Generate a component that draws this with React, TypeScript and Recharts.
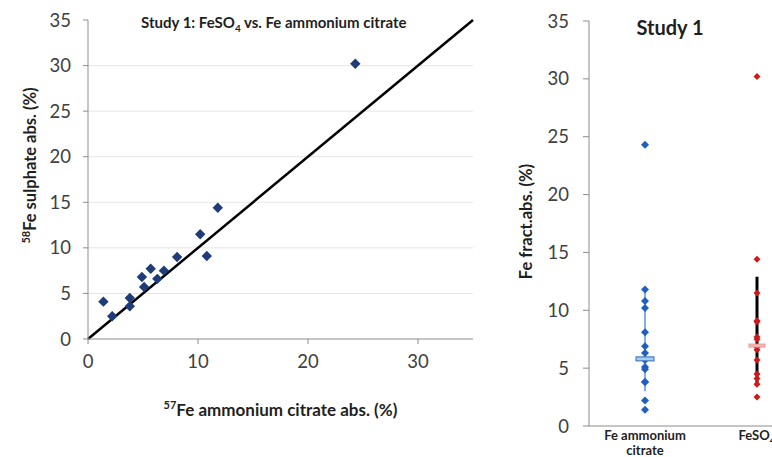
import React from 'react';
import { ScatterChart, Scatter, XAxis, YAxis, CartesianGrid, ReferenceLine, Label } from 'recharts';

// paired absorption values per subject (%)
const citrateAbs = [1.4, 2.2, 3.8, 3.8, 4.9, 5.1, 5.7, 6.3, 6.9, 8.1, 10.2, 10.8, 11.8, 24.3];
const sulphateAbs = [4.1, 2.5, 4.5, 3.6, 6.8, 5.7, 7.7, 6.6, 7.5, 9.0, 11.5, 9.1, 14.4, 30.2];

const yTicks = [0, 5, 10, 15, 20, 25, 30, 35];
const xTicks = [0, 10, 20, 30];
const gridValues = [5, 10, 15, 20, 25, 30];
const identityLine = [0, 35];

// right panel groups
const groupPos = [1, 2];
const groupMedians = [5.8, 6.95];
const groupLow = [3.0, 3.5];
const groupHigh = [11.7, 12.9];

const FONT = 'Lato, "Open Sans", sans-serif';
const TEXT = '#1f1f1f';
const TICK = '#404040';
const AXIS = '#8c8c8c';

const pairs = citrateAbs.map((x, i) => ({ x, y: sulphateAbs[i] }));
const citrateGroup = citrateAbs.map((y) => ({ x: groupPos[0], y }));
const sulphateGroup = sulphateAbs.map((y) => ({ x: groupPos[1], y }));

const diamond = (r: number, fill: string) => (props: any) => {
  const { cx, cy } = props;
  return <polygon points={`${cx},${cy - r} ${cx + r},${cy} ${cx},${cy + r} ${cx - r},${cy}`} fill={fill} />;
};

const medianMark = (w: number, h: number, fill: string, stroke: string) => (props: any) => {
  const { cx, cy } = props;
  return <rect x={cx - w / 2} y={cy - h / 2} width={w} height={h} fill={fill} stroke={stroke} strokeWidth={1} />;
};

const noShape = () => <g />;

const tickStyle = { fontSize: 18.5, fill: TICK, fontFamily: FONT };

const GroupTick = (props: any) => {
  const { x, y, payload } = props;
  const idx = groupPos.indexOf(payload.value);
  const common = { textAnchor: 'middle' as const, fontFamily: FONT, fontWeight: 700, fontSize: 13, fill: TEXT };
  if (idx === 0) {
    return (
      <g>
        <text x={x} y={y + 6} {...common}>Fe ammonium</text>
        <text x={x} y={y + 21} {...common}>citrate</text>
      </g>
    );
  }
  return (
    <text x={x} y={y + 6} {...common}>
      FeSO<tspan fontSize={10} dy={4}>4</tspan>
    </text>
  );
};

const App: React.FC = () => {
  return (
    <div style={{ position: 'absolute', left: 0, top: 0, width: 772, height: 457, overflow: 'hidden', background: '#fff' }}>
      {/* left panel: paired scatter */}
      <div style={{ position: 'absolute', left: 0, top: 0 }}>
        <ScatterChart width={480} height={457} margin={{ top: 20, right: 7, bottom: 58, left: 0 }}>
          <CartesianGrid vertical={false} horizontalValues={gridValues} stroke="#e6e6e6" />
          <XAxis
            type="number"
            dataKey="x"
            domain={[0, 35]}
            ticks={xTicks}
            height={60}
            tick={tickStyle}
            tickSize={5}
            tickMargin={11}
            stroke={AXIS}
          >
            <Label
              content={(p: any) => {
                const vb = p.viewBox;
                return (
                  <text x={vb.x + vb.width / 2} y={vb.y + 77} textAnchor="middle" fontFamily={FONT} fontWeight={700} fontSize={17} fill={TEXT}>
                    <tspan fontSize={11} dy={-7}>57</tspan>
                    <tspan dy={7}>Fe ammonium citrate abs. (%)</tspan>
                  </text>
                );
              }}
            />
          </XAxis>
          <YAxis
            type="number"
            dataKey="y"
            domain={[0, 35]}
            ticks={yTicks}
            width={88}
            tick={tickStyle}
            tickSize={5}
            tickMargin={12}
            stroke={AXIS}
          >
            <Label
              content={(p: any) => {
                const vb = p.viewBox;
                const cx = 36;
                const cy = vb.y + vb.height / 2 - 14;
                return (
                  <text x={cx} y={cy} transform={`rotate(-90 ${cx} ${cy})`} textAnchor="middle" fontFamily={FONT} fontWeight={700} fontSize={16.5} fill={TEXT}>
                    <tspan fontSize={11} dy={-6}>58</tspan>
                    <tspan dy={6}>Fe sulphate abs. (%)</tspan>
                  </text>
                );
              }}
            />
          </YAxis>
          <ReferenceLine
            segment={[
              { x: identityLine[0], y: identityLine[0] },
              { x: identityLine[1], y: identityLine[1] },
            ]}
            stroke="#000"
            strokeWidth={2.5}
          />
          <Scatter data={pairs} shape={diamond(5.2, '#1d3c78')} isAnimationActive={false} />
        </ScatterChart>
        <div
          style={{
            position: 'absolute',
            left: 141,
            top: 13,
            fontFamily: FONT,
            fontWeight: 700,
            fontSize: 15,
            color: TEXT,
            whiteSpace: 'nowrap',
          }}
        >
          Study 1: FeSO<sub style={{ fontSize: 10 }}>4</sub> vs. Fe ammonium citrate
        </div>
      </div>

      {/* right panel: group dot plot */}
      <div style={{ position: 'absolute', left: 480, top: 0 }}>
        <ScatterChart width={340} height={457} margin={{ top: 21, right: 7, bottom: 0, left: 0 }}>
          <XAxis
            type="number"
            dataKey="x"
            domain={[0.5, 2.5]}
            ticks={groupPos}
            height={31}
            tickLine={false}
            tick={<GroupTick />}
            stroke={AXIS}
          />
          <YAxis
            type="number"
            dataKey="y"
            domain={[0, 35]}
            ticks={yTicks}
            width={109}
            tick={tickStyle}
            tickSize={6}
            tickMargin={14}
            stroke={AXIS}
          >
            <Label
              content={(p: any) => {
                const vb = p.viewBox;
                const cx = 52;
                const cy = vb.y + vb.height / 2 - 2;
                return (
                  <text x={cx} y={cy} transform={`rotate(-90 ${cx} ${cy})`} textAnchor="middle" fontFamily={FONT} fontWeight={700} fontSize={16.5} fill={TEXT}>
                    Fe fract.abs. (%)
                  </text>
                );
              }}
            />
          </YAxis>
          <Scatter
            data={[
              { x: groupPos[0], y: groupLow[0] },
              { x: groupPos[0], y: groupHigh[0] },
            ]}
            line={{ stroke: '#7fb0e0', strokeWidth: 2 }}
            shape={noShape}
            isAnimationActive={false}
          />
          <Scatter
            data={[
              { x: groupPos[1], y: groupLow[1] },
              { x: groupPos[1], y: groupHigh[1] },
            ]}
            line={{ stroke: '#000', strokeWidth: 3 }}
            shape={noShape}
            isAnimationActive={false}
          />
          <Scatter data={citrateGroup} shape={diamond(4, '#1f5fbf')} isAnimationActive={false} />
          <Scatter data={sulphateGroup} shape={diamond(3.5, '#d01818')} isAnimationActive={false} />
          <Scatter
            data={[{ x: groupPos[0], y: groupMedians[0] }]}
            shape={medianMark(18, 4, '#a9cdf0', '#2f6cb5')}
            isAnimationActive={false}
          />
          <Scatter
            data={[{ x: groupPos[1], y: groupMedians[1] }]}
            shape={medianMark(16, 3, '#f2b8b8', '#e89a9a')}
            isAnimationActive={false}
          />
        </ScatterChart>
        <div
          style={{
            position: 'absolute',
            left: 90,
            top: 15,
            width: 200,
            textAlign: 'center',
            fontFamily: FONT,
            fontWeight: 700,
            fontSize: 20,
            color: TEXT,
          }}
        >
          Study 1
        </div>
      </div>
    </div>
  );
};

export default App;
